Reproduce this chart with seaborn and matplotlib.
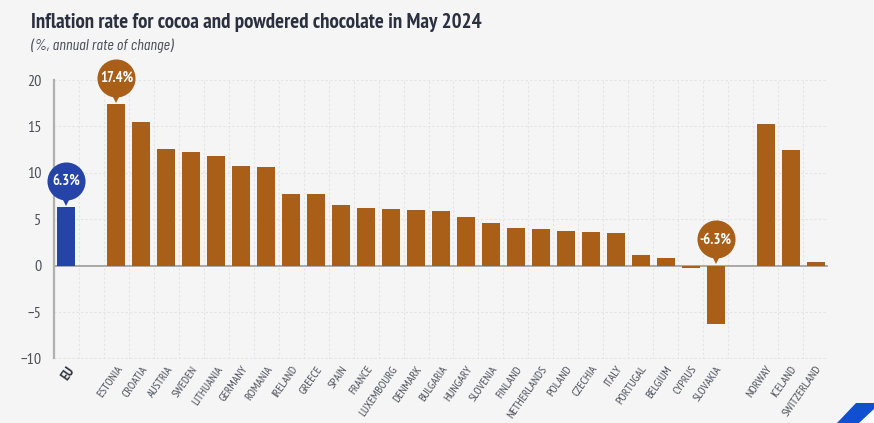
import pandas as pd
import matplotlib
matplotlib.use("Agg")
import matplotlib.pyplot as plt
from matplotlib.patches import Polygon
from matplotlib.transforms import ScaledTranslation
import seaborn as sns

# blank slots keep the gaps between EU, member states and EFTA countries
countries = ["EU", " ", "ESTONIA", "CROATIA", "AUSTRIA", "SWEDEN", "LITHUANIA", "GERMANY",
             "ROMANIA", "IRELAND", "GREECE", "SPAIN", "FRANCE", "LUXEMBOURG", "DENMARK",
             "BULGARIA", "HUNGARY", "SLOVENIA", "FINLAND", "NETHERLANDS", "POLAND",
             "CZECHIA", "ITALY", "PORTUGAL", "BELGIUM", "CYPRUS", "SLOVAKIA", "  ",
             "NORWAY", "ICELAND", "SWITZERLAND"]
values = [6.3, None, 17.4, 15.5, 12.6, 12.2, 11.8, 10.7, 10.6, 7.7, 7.7, 6.5, 6.2, 6.1,
          6.0, 5.9, 5.2, 4.6, 4.1, 3.9, 3.7, 3.6, 3.5, 1.1, 0.8, -0.3, -6.3, None,
          15.3, 12.5, 0.4]
y_ticks = [-10, -5, 0, 5, 10, 15, 20]
callouts = {"EU": "6.3%", "ESTONIA": "17.4%", "SLOVAKIA": "-6.3%"}

BLUE = "#2644a8"
BROWN = "#a95f17"
BG = "#f5f5f5"
FONT = ["PT Sans Narrow", "Fira Sans Condensed", "Open Sans", "DejaVu Sans"]
ITALIC_FONT = ["Barlow Condensed", "Fira Sans Condensed", "Open Sans", "DejaVu Sans"]

df = pd.DataFrame({"country": countries, "value": values})
df["group"] = ["eu" if c == "EU" else "other" for c in countries]

sns.set_style("white")
plt.rcParams["font.family"] = FONT

fig = plt.figure(figsize=(8.74, 4.23), dpi=100, facecolor=BG)
ax = fig.add_axes([54 / 874, 1 - 358.5 / 423, 774 / 874, 278.5 / 423], facecolor=BG)

sns.barplot(data=df, x="country", y="value", hue="group", order=countries,
            palette={"eu": BLUE, "other": BROWN}, dodge=False, width=0.72,
            legend=False, saturation=1, ax=ax, errorbar=None, linewidth=0)

ax.set_xlim(-0.5, len(countries) - 0.5)
ax.set_ylim(-10, 20)
ax.set_yticks(y_ticks)
ax.set_xlabel("")
ax.set_ylabel("")

# grid sits on the category boundaries
for i in range(1, len(countries) + 1):
    ax.axvline(i - 0.5, color="#e4e4e4", lw=0.8, ls=(0, (2, 2)), zorder=0)
for t in y_ticks:
    if t != 0:
        ax.axhline(t, color="#e4e4e4", lw=0.8, ls=(0, (2, 2)), zorder=0)
ax.axhline(0, color="#a3a3a3", lw=1.3, zorder=0.5)

sns.despine(ax=ax, top=True, right=True, bottom=True)
ax.spines["left"].set_color("#b0b0b0")
ax.spines["left"].set_linewidth(1.6)
ax.tick_params(axis="both", length=0)
ax.tick_params(axis="y", labelsize=11.5, labelcolor="#4a4f5a", pad=9)

ax.set_xticks(range(len(countries)))
ax.set_xticklabels(countries, rotation=55, ha="right", rotation_mode="anchor",
                   fontsize=8.5, color="#4a4f5a")
ax.tick_params(axis="x", pad=4)
for lab in ax.get_xticklabels():
    if lab.get_text() == "EU":
        lab.set_fontweight("bold")
        lab.set_fontsize(10)
        lab.set_color("#2b2f3a")

# value bubbles above the highlighted bars
for name, text in callouts.items():
    i = countries.index(name)
    base = max(values[i], 0)
    color = BLUE if name == "EU" else BROWN
    ax.annotate(text, xy=(i, base), xytext=(0, 19), textcoords="offset points",
                ha="center", va="center", color="white", fontsize=10.5, fontweight="bold",
                zorder=6, annotation_clip=False)
    ax.plot([i], [base], marker="o", ms=27.4, color=color, mew=0, clip_on=False, zorder=5,
            transform=ax.transData + ScaledTranslation(0, 19 / 72, fig.dpi_scale_trans))
    ax.plot([i], [base], marker="v", ms=7, color=color, mew=0, clip_on=False, zorder=5,
            transform=ax.transData + ScaledTranslation(0, 4.5 / 72, fig.dpi_scale_trans))

fig.text(31 / 874, 1 - 22 / 423, "Inflation rate for cocoa and powdered chocolate in May 2024",
         fontsize=15, fontweight="bold", color="#2b3040", va="center", ha="left")
fig.text(31 / 874, 1 - 46 / 423, "(%, annual rate of change)", fontsize=11.7, style="italic",
         family=ITALIC_FONT, color="#4a4f5a", va="center", ha="left")

# corner logo mark
fig.add_artist(Polygon([(837 / 874, 0), (856 / 874, 20 / 423), (874 / 874, 20 / 423), (874 / 874, 0)],
                       closed=True, transform=fig.transFigure, color="#0f4fd0", lw=0))
fig.add_artist(Polygon([(859 / 874, 0), (874 / 874, 14 / 423), (874 / 874, 0)],
                       closed=True, transform=fig.transFigure, color="white", lw=0))

fig.savefig("out.png", dpi=100, facecolor=BG)
